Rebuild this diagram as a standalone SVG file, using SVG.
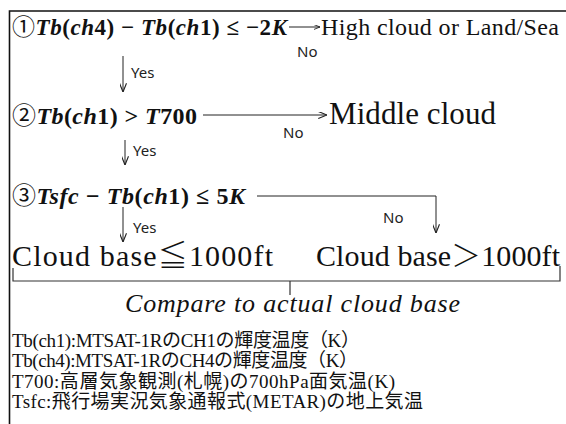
<svg xmlns="http://www.w3.org/2000/svg" width="566" height="424" viewBox="0 0 566 424">
<style>
.bg{fill:#fff}
.frame{fill:none;stroke:#111;stroke-width:1.6}
.f{font-family:"Liberation Serif",serif;font-weight:bold;fill:#111}
.i{font-style:italic}
.n{font-family:"Noto Sans CJK JP",sans-serif;font-weight:normal;font-style:normal}
.t{font-family:"Liberation Serif",serif;fill:#111}
.cj{font-family:"Noto Sans CJK JP",sans-serif;font-weight:300}
.lbl{font-family:"Noto Sans","Liberation Sans",sans-serif;font-size:15px;fill:#222}
.leg{font-family:"Liberation Serif","Noto Sans CJK JP",serif;font-size:19px;fill:#111}
.c{fill:none;stroke:#222;stroke-width:1}
.br{fill:none;stroke:#333;stroke-width:1.2}
</style>
<defs>
<marker id="ah" viewBox="0 0 10 8" refX="10" refY="4" markerWidth="9" markerHeight="7" orient="auto" markerUnits="userSpaceOnUse"><path d="M0,0 L10,4 L0,8" fill="none" stroke="#222" stroke-width="1.3"/></marker>
<marker id="ahs" viewBox="0 0 10 8" refX="10" refY="4" markerWidth="6" markerHeight="5" orient="auto" markerUnits="userSpaceOnUse"><path d="M0,0 L10,4 L0,8" fill="none" stroke="#222" stroke-width="1.5"/></marker>
</defs>
<rect class="bg" x="0" y="0" width="566" height="424"/>
<g id="frame"><path class="frame" d="M9.5,424 V11 H566"/></g>

<g id="cond1"><text class="f" x="12" y="35" font-size="23" textLength="275"><tspan class="n">①</tspan><tspan class="i">Tb</tspan>(<tspan class="i">ch</tspan>4) − <tspan class="i">Tb</tspan>(<tspan class="i">ch</tspan>1) ≤ −2<tspan class="i">K</tspan></text></g>
<g id="high"><text class="t" x="321" y="35" font-size="24" textLength="238">High cloud or Land/Sea</text></g>

<g id="cond2"><text class="f" x="12" y="124" font-size="24" textLength="185"><tspan class="n">②</tspan><tspan class="i">Tb</tspan>(<tspan class="i">ch</tspan>1) &gt; <tspan class="i">T</tspan>700</text></g>
<g id="middle"><text class="t" x="329" y="124" font-size="31" textLength="167">Middle cloud</text></g>

<g id="cond3"><text class="f" x="12" y="204" font-size="24" textLength="233"><tspan class="n">③</tspan><tspan class="i">Tsfc</tspan> − <tspan class="i">Tb</tspan>(<tspan class="i">ch</tspan>1) ≤ 5<tspan class="i">K</tspan></text></g>

<g id="low"><text class="t" x="12" y="266" font-size="30" textLength="261">Cloud base<tspan class="cj">≦</tspan>1000ft</text></g>
<g id="highbase"><text class="t" x="316" y="266" font-size="30" textLength="244">Cloud base<tspan class="cj">＞</tspan>1000ft</text></g>

<g id="compare">
<path class="br" d="M13,268 V281 H560 V266 M290,281 V295"/>
<text class="t i" x="125" y="312" font-size="26" textLength="335">Compare to actual cloud base</text>
</g>

<g id="connectors">
<line class="c" x1="289" y1="27" x2="320" y2="27" marker-end="url(#ahs)"/>
<text class="lbl" x="297" y="57">No</text>
<line class="c" x1="123" y1="56" x2="123" y2="92" marker-end="url(#ah)"/>
<text class="lbl" x="131" y="78">Yes</text>
<line class="c" x1="203" y1="115" x2="327" y2="115" marker-end="url(#ah)"/>
<text class="lbl" x="283" y="138">No</text>
<line class="c" x1="125" y1="140" x2="125" y2="165" marker-end="url(#ah)"/>
<text class="lbl" x="133" y="156">Yes</text>
<path class="c" d="M257,196 H436 V233" marker-end="url(#ah)"/>
<text class="lbl" x="383" y="223">No</text>
<line class="c" x1="123" y1="207" x2="123" y2="242" marker-end="url(#ah)"/>
<text class="lbl" x="133" y="233">Yes</text>
</g>

<g id="legend">
<text class="leg" x="12" y="347" textLength="348">Tb(ch1):MTSAT-1RのCH1の輝度温度（K）</text>
<text class="leg" x="12" y="367" textLength="346">Tb(ch4):MTSAT-1RのCH4の輝度温度（K）</text>
<text class="leg" x="12" y="388" textLength="383">T700:高層気象観測(札幌)の700hPa面気温(K)</text>
<text class="leg" x="12" y="408" textLength="411">Tsfc:飛行場実況気象通報式(METAR)の地上気温</text>
</g>
</svg>
